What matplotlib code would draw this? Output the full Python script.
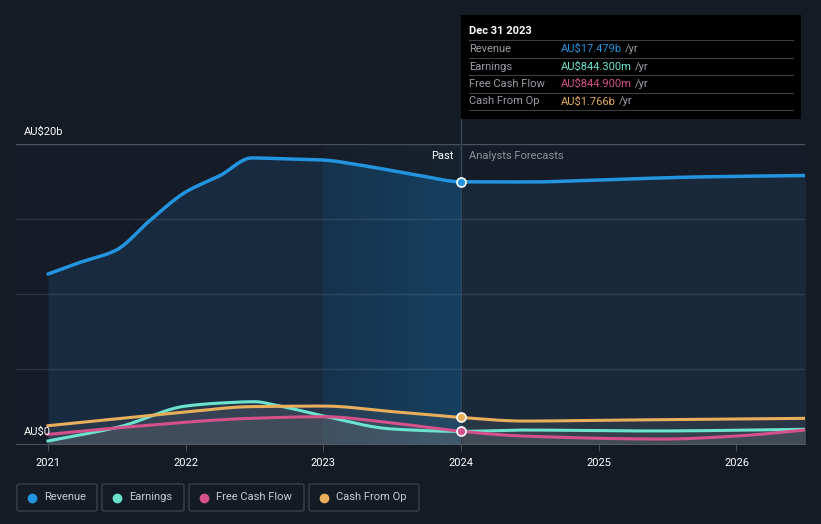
import matplotlib.pyplot as plt
from matplotlib.patches import FancyBboxPatch, Rectangle
from matplotlib.colors import to_rgb
import numpy as np

plt.rcParams['font.family'] = ['Roboto', 'DejaVu Sans']

# data (AU$ billions)
rev_t = [2021.0, 2021.23, 2021.49, 2021.74, 2022.0, 2022.25, 2022.48, 2022.75, 2023.0, 2023.26, 2023.7, 2024.0,
         2024.5, 2025.0, 2025.7, 2026.5]
rev_v = [11.33, 12.1, 12.9, 14.9, 16.8, 17.9, 19.07, 19.0, 18.93, 18.6, 17.9, 17.48,
         17.47, 17.6, 17.8, 17.9]

earn_t = [2021.0, 2021.52, 2022.0, 2022.25, 2022.5, 2022.65, 2023.0, 2023.5, 2024.0, 2024.45, 2025.4, 2026.5]
earn_v = [0.2, 1.15, 2.53, 2.73, 2.82, 2.6, 1.87, 1.0, 0.84, 0.93, 0.87, 0.98]

fcf_t = [2021.0, 2021.6, 2022.47, 2023.0, 2023.5, 2024.0, 2024.45, 2025.48, 2026.0, 2026.5]
fcf_v = [0.64, 1.15, 1.71, 1.82, 1.4, 0.845, 0.53, 0.33, 0.53, 0.93]

cfo_t = [2021.0, 2021.41, 2022.0, 2022.47, 2023.0, 2023.5, 2024.0, 2024.45, 2025.21, 2026.5]
cfo_v = [1.22, 1.6, 2.13, 2.49, 2.53, 2.16, 1.77, 1.53, 1.6, 1.71]

years = [2021, 2022, 2023, 2024, 2025, 2026]

BG = '#151b25'
C_REV = '#2394df'
C_EARN = '#6ce3cf'
C_FCF = '#d4518a'
C_CFO = '#e8ae5c'


def pchip(t, v, n=500):
    # monotone cubic so the lines bend softly like the original
    x = np.asarray(t, float)
    y = np.asarray(v, float)
    h = np.diff(x)
    d = np.diff(y) / h
    m = np.zeros_like(y)
    for k in range(1, len(y) - 1):
        if d[k - 1] * d[k] > 0:
            w1 = 2 * h[k] + h[k - 1]
            w2 = h[k] + 2 * h[k - 1]
            m[k] = (w1 + w2) / (w1 / d[k - 1] + w2 / d[k])
    m[0], m[-1] = d[0], d[-1]
    xx = np.linspace(x[0], x[-1], n)
    idx = np.clip(np.searchsorted(x, xx) - 1, 0, len(x) - 2)
    s = (xx - x[idx]) / h[idx]
    h00 = 2 * s**3 - 3 * s**2 + 1
    h10 = s**3 - 2 * s**2 + s
    h01 = -2 * s**3 + 3 * s**2
    h11 = s**3 - s**2
    yy = h00 * y[idx] + h10 * h[idx] * m[idx] + h01 * y[idx + 1] + h11 * h[idx] * m[idx + 1]
    return xx, yy


def hgrad(c0, c1, n=200):
    a, b = np.array(to_rgb(c0)), np.array(to_rgb(c1))
    s = np.linspace(0, 1, n)[:, None]
    return (a + (b - a) * s)[None, :, :]


fig = plt.figure(figsize=(8.21, 5.24), dpi=100, facecolor=BG)
W, H = 821, 524
x0, x1 = 16, 805
y0, y1 = 444, 144
ax = fig.add_axes([x0 / W, 1 - y0 / H, (x1 - x0) / W, (y0 - y1) / H])
ax.set_facecolor('#161c27')
ppy = 137.7
ax.set_xlim(2021 - 32 / ppy, 2021 + (x1 - 48) / ppy)
ax.set_ylim(0, 20)

# revenue fill: bluer in the past, greyer in the forecast
rt, rv = pchip(rev_t, rev_v)
ax.fill_between(rt, rv, 0, where=rt <= 2023.01, color='#172a40', lw=0, zorder=1)
ax.fill_between(rt, rv, 0, where=rt >= 2024, color='#1a293a', lw=0, zorder=1)

# past-year highlight band: faint above the curve, stronger below it
ax.imshow(hgrad('#161e2a', '#16232f'), extent=[2023, 2024, 0, 20], aspect='auto', zorder=0.5)
m = (rt >= 2022.99) & (rt <= 2024.01)
band = ax.fill_between(rt[m], rv[m], 0, color='none', lw=0)
im = ax.imshow(hgrad('#17324c', '#15405f'), extent=[2023, 2024, 0, 20], aspect='auto', zorder=1)
im.set_clip_path(band.get_paths()[0], transform=ax.transData)
ax.set_xlim(2021 - 32 / ppy, 2021 + (x1 - 48) / ppy)
ax.set_ylim(0, 20)

for y in [5, 10, 15]:
    ax.axhline(y, color='white', alpha=0.1, lw=1, zorder=2)
ax.axhline(20, color='#4a505a', lw=1, zorder=2)

ax.plot(rt, rv, color=C_REV, lw=2.5, zorder=6, solid_capstyle='round')

curves = {}
for name, t, v in [('cfo', cfo_t, cfo_v), ('earn', earn_t, earn_v), ('fcf', fcf_t, fcf_v)]:
    curves[name] = pchip(t, v)
for name in ['cfo', 'earn', 'fcf']:
    tt, vv = curves[name]
    ax.fill_between(tt, vv, 0, color='#8a8a8a', alpha=0.14, lw=0, zorder=3)
for name, c in [('earn', C_EARN), ('fcf', C_FCF), ('cfo', C_CFO)]:
    tt, vv = curves[name]
    ax.plot(tt, vv, color=c, lw=2.2, zorder=5)

# markers at Dec 2023
for v, c in [(17.48, C_REV), (1.77, C_CFO), (0.845, C_FCF)]:
    ax.plot(2024.0, v, 'o', ms=6.5, mfc=c, mec='white', mew=1.2, zorder=8)

ax.plot([2024, 2024], [0, 20], color='#34465a', lw=1, zorder=4)
fig.add_artist(plt.Line2D([461 / W, 461 / W], [1 - 144 / H, 1 - 119 / H], color='#34465a', lw=1))

for s in ['top', 'right', 'left']:
    ax.spines[s].set_visible(False)
ax.spines['bottom'].set_color('#4a505a')
ax.set_yticks([])
ax.set_xticks(years)
ax.set_xticklabels([str(y) for y in years], color='white', fontsize=8)
ax.tick_params(axis='x', colors='#4a505a', length=5, labelcolor='white', pad=5)

fig.text(24 / W, 1 - 132 / H, 'AU$20b', color='white', fontsize=8, va='center')
fig.text(24 / W, 1 - 432 / H, 'AU$0', color='white', fontsize=8, va='center')
fig.text(453 / W, 1 - 156 / H, 'Past', color='white', fontsize=8, va='center', ha='right')
fig.text(469 / W, 1 - 156 / H, 'Analysts Forecasts', color='#8c929a', fontsize=8, va='center')

# tooltip
fig.add_artist(Rectangle((461 / W, 1 - 119 / H), 340 / W, 104 / H, facecolor='black', edgecolor='none'))
fig.text(469 / W, 1 - 31 / H, 'Dec 31 2023', color='white', fontsize=8, va='center', fontweight='bold')
rows = [('Revenue', 'AU$17.479b', C_REV), ('Earnings', 'AU$844.300m', C_EARN),
        ('Free Cash Flow', 'AU$844.900m', C_FCF), ('Cash From Op', 'AU$1.766b', C_CFO)]
for i, (lab, val, c) in enumerate(rows):
    yy = 49 + i * 17.5
    fig.add_artist(plt.Line2D([469 / W, 793 / W], [1 - (yy - 9) / H] * 2, color='#3a3d42', lw=0.8))
    fig.text(469 / W, 1 - yy / H, lab, color='#9a9ea4', fontsize=8, va='center')
    t = fig.text(561 / W, 1 - yy / H, val, color=c, fontsize=8, va='center')
    fig.canvas.draw()
    bb = t.get_window_extent()
    fig.text(bb.x1 / W + 3 / W, 1 - yy / H, '/yr', color='#9a9ea4', fontsize=8, va='center')
fig.add_artist(plt.Line2D([469 / W, 793 / W], [1 - 110 / H] * 2, color='#3a3d42', lw=0.8))

# legend boxes
legend = [('Revenue', C_REV, 17, 97), ('Earnings', C_EARN, 102, 184), ('Free Cash Flow', C_FCF, 189, 304),
          ('Cash From Op', C_CFO, 309, 419)]
for lab, c, lx, rx in legend:
    fig.add_artist(FancyBboxPatch((lx / W, 1 - 511 / H), (rx - lx) / W, 27 / H,
                                  boxstyle='round,pad=0,rounding_size=0.003',
                                  facecolor='none', edgecolor='#3a404a', lw=1))
    fig.add_artist(plt.Line2D([(lx + 15) / W], [1 - 497.5 / H], marker='o', ms=6, color=c, mec=c))
    fig.text((lx + 27) / W, 1 - 497.5 / H, lab, color='#c8ccd2', fontsize=8, va='center')

fig.savefig('out.png', dpi=100, facecolor=BG)
